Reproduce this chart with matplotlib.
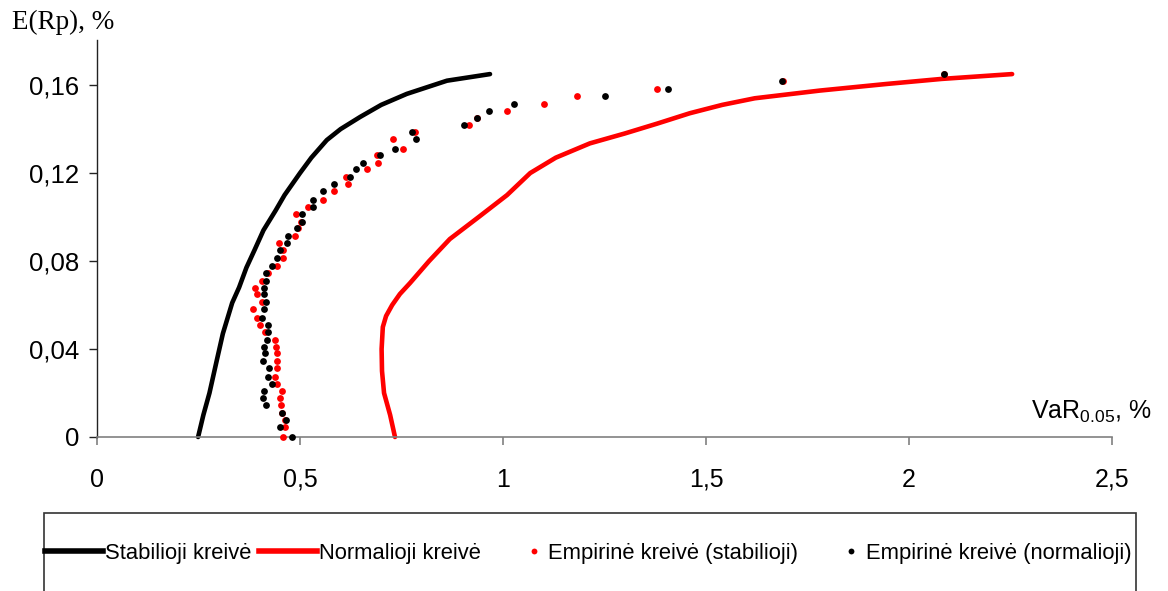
import matplotlib
matplotlib.use("Agg")
import matplotlib.pyplot as plt
from matplotlib.lines import Line2D
from matplotlib.patches import Rectangle
from matplotlib.legend_handler import HandlerBase

# Efficient frontier under the stable distribution: VaR (%) vs expected return (%)
stab_var = [0.249, 0.262, 0.277, 0.294, 0.31, 0.333, 0.35, 0.368, 0.388, 0.41, 0.44,
            0.462, 0.50, 0.528, 0.566, 0.60, 0.648, 0.70, 0.763, 0.862, 0.968]
stab_ret = [0.0, 0.01, 0.02, 0.034, 0.047, 0.061, 0.068, 0.077, 0.085, 0.094, 0.103,
            0.110, 0.12, 0.127, 0.135, 0.14, 0.1455, 0.151, 0.156, 0.162, 0.165]

# Efficient frontier under the normal distribution
norm_var = [0.734, 0.722, 0.707, 0.702, 0.701, 0.704, 0.712, 0.727, 0.746, 0.771, 0.818,
            0.869, 0.94, 1.01, 1.067, 1.13, 1.214, 1.30, 1.38, 1.46, 1.54, 1.62, 1.78,
            1.944, 2.08, 2.254]
norm_ret = [0.0, 0.01, 0.02, 0.03, 0.04, 0.05, 0.055, 0.06, 0.065, 0.07, 0.08,
            0.09, 0.10, 0.11, 0.12, 0.127, 0.1335, 0.138, 0.1425, 0.1472, 0.151, 0.154,
            0.1575, 0.1605, 0.1628, 0.165]

# Empirical VaR of the optimal portfolios, one point per target return level
emp_ret = [0.0, 0.0044, 0.0077, 0.0110, 0.0144, 0.0176, 0.0209, 0.0242, 0.0274, 0.0312,
           0.0347, 0.0380, 0.0410, 0.0441, 0.0479, 0.0509, 0.0542, 0.0580, 0.0615, 0.0649,
           0.0679, 0.0710, 0.0744, 0.0779, 0.0812, 0.0850, 0.0883, 0.0915, 0.0949, 0.0979,
           0.1012, 0.1044, 0.1077, 0.1117, 0.1150, 0.1183, 0.1217, 0.1248, 0.1280, 0.1311,
           0.1353, 0.1385, 0.1418, 0.1451, 0.1483, 0.1515, 0.1549, 0.1580, 0.1620, 0.1652]
emp_var_stab = [0.457, 0.464, 0.464, 0.456, 0.453, 0.451, 0.456, 0.444, 0.438, 0.443,
                0.443, 0.443, 0.441, 0.438, 0.414, 0.401, 0.393, 0.385, 0.406, 0.393,
                0.389, 0.406, 0.422, 0.443, 0.459, 0.459, 0.448, 0.488, 0.496, 0.502,
                0.490, 0.520, 0.556, 0.584, 0.619, 0.613, 0.666, 0.693, 0.689, 0.754,
                0.728, 0.783, 0.916, 0.936, 1.009, 1.102, 1.182, 1.380, 1.690, 2.086]
emp_var_norm = [0.481, 0.451, 0.465, 0.456, 0.416, 0.408, 0.411, 0.430, 0.422, 0.424,
                0.408, 0.414, 0.412, 0.418, 0.422, 0.420, 0.407, 0.411, 0.416, 0.411,
                0.411, 0.416, 0.416, 0.430, 0.443, 0.451, 0.469, 0.471, 0.492, 0.504,
                0.504, 0.533, 0.531, 0.557, 0.584, 0.622, 0.637, 0.654, 0.697, 0.733,
                0.786, 0.777, 0.904, 0.935, 0.966, 1.027, 1.251, 1.406, 1.687, 2.086]

x_ticks = [0, 0.5, 1, 1.5, 2, 2.5]
x_tick_labels = ["0", "0,5", "1", "1,5", "2", "2,5"]
y_ticks = [0, 0.04, 0.08, 0.12, 0.16]
y_tick_labels = ["0", "0,04", "0,08", "0,12", "0,16"]

series_labels = ["Stabilioji kreivė", "Normalioji kreivė",
                 "Empirinė kreivė (stabilioji)", "Empirinė kreivė (normalioji)"]

plt.rcParams['font.family'] = ['Liberation Sans', 'DejaVu Sans']
plt.rcParams['mathtext.fontset'] = 'custom'
plt.rcParams['mathtext.rm'] = 'Liberation Sans'

W, H = 1168, 591
fig = plt.figure(figsize=(W / 100, H / 100), dpi=100)
ax = fig.add_axes([97 / W, 1 - 437 / H, (1112 - 97) / W, (437 - 40) / H])

ax.plot(stab_var, stab_ret, color='black', lw=3.3, solid_capstyle='round',
        solid_joinstyle='round', clip_on=False, zorder=2)
ax.plot(norm_var, norm_ret, color='#ff0000', lw=3.3, solid_capstyle='round',
        solid_joinstyle='round', clip_on=False, zorder=2)
ax.scatter(emp_var_stab, emp_ret, s=24, color='#ff0000', linewidths=0,
           clip_on=False, zorder=3)
ax.scatter(emp_var_norm, emp_ret, s=24, color='black', linewidths=0,
           clip_on=False, zorder=4)

ax.set_xlim(0, 2.5)
ax.set_ylim(0, 0.1805)
ax.spines['top'].set_visible(False)
ax.spines['right'].set_visible(False)
ax.spines['bottom'].set_color('#808080')
ax.spines['left'].set_color('#222222')
ax.spines['bottom'].set_linewidth(1.2)
ax.spines['left'].set_linewidth(1.0)

ax.set_xticks(x_ticks)
ax.set_xticklabels(x_tick_labels)
ax.set_yticks(y_ticks)
ax.set_yticklabels(y_tick_labels)
ax.tick_params(axis='x', direction='out', length=6, width=1.2, color='#808080',
               pad=16, labelsize=18)
ax.tick_params(axis='y', direction='out', length=6, width=1.0, color='#222222',
               pad=7, labelsize=18.5)

fig.text(12 / W, 1 - 22 / H, 'E(Rp), %', family='Liberation Serif', fontsize=19.5,
         ha='left', va='center')
fig.text(1031 / W, 1 - 419 / H, r'VaR$_{\mathrm{0.05}}$, %', fontsize=18,
         ha='left', va='baseline')


class DotHandler(HandlerBase):
    def create_artists(self, legend, orig_handle, xdescent, ydescent, width,
                       height, fontsize, trans):
        dot = Line2D([0.79 * width - xdescent], [height / 2 - ydescent],
                     marker='o', ls='none', markersize=4.2,
                     markerfacecolor=orig_handle.get_markerfacecolor(),
                     markeredgewidth=0)
        dot.set_transform(trans)
        return [dot]


h_stab = Line2D([], [], color='black', lw=4)
h_norm = Line2D([], [], color='#ff0000', lw=4)
h_es = Line2D([], [], marker='o', ls='none', markerfacecolor='#ff0000')
h_en = Line2D([], [], marker='o', ls='none', markerfacecolor='black')

fig.legend([h_stab, h_norm, h_es, h_en], series_labels,
           loc='center left', bbox_to_anchor=(45 / W, 1 - 553 / H), ncol=4,
           frameon=False, fontsize=15.8, handlelength=2.65, handletextpad=0.1,
           columnspacing=0.32, borderpad=0, borderaxespad=0,
           handler_map={h_es: DotHandler(), h_en: DotHandler()})

fig.patches.append(Rectangle((44 / W, -0.05), (1136 - 44) / W, 0.05 + 1 - 513 / H,
                             transform=fig.transFigure, fill=False,
                             edgecolor='#333333', linewidth=1.2))

fig.savefig('out.png', dpi=100)
